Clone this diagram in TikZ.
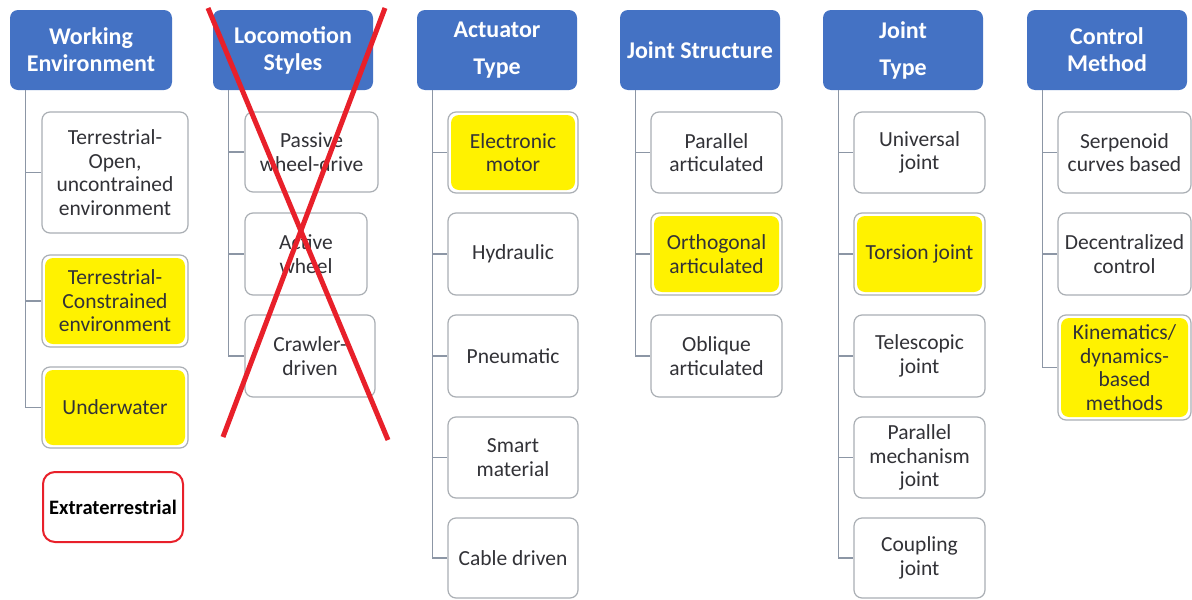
\documentclass[tikz,border=0pt]{standalone}
\usepackage{fontspec}
\setmainfont{Carlito}
\definecolor{hdrblue}{RGB}{68,114,196}
\definecolor{boxgray}{RGB}{170,175,180}
\definecolor{linegray}{RGB}{140,150,165}
\definecolor{txtgray}{RGB}{50,50,55}
\definecolor{hlyellow}{RGB}{255,242,0}
\definecolor{xred}{RGB}{232,32,42}
\begin{document}
\begin{tikzpicture}[x=1pt,y=-1pt,
  hdr/.style={rectangle, rounded corners=8pt, fill=hdrblue, text=white, align=center,
    font=\fontsize{24}{27}\selectfont\bfseries, minimum height=80pt, inner sep=1pt},
  child/.style={rectangle, rounded corners=8pt, draw=boxgray, line width=1.2pt, fill=white,
    text=txtgray, align=center, font=\fontsize{21.5}{23.5}\selectfont, inner sep=1pt},
  yel/.style={child, path picture={\fill[hlyellow] ([shift={(3pt,-3pt)}]path picture bounding box.north west) rectangle ([shift={(-3pt,3pt)}]path picture bounding box.south east);}},
  conn/.style={draw=linegray, line width=1.2pt},
  cross/.style={draw=xred, line width=5pt}]
\useasboundingbox[fill=white] (0,0) rectangle (1192,600);

% headers
\node[hdr, minimum width=162pt] (h1) at (91,50) {Working\\Environment};
\node[hdr, minimum width=160pt] (h2) at (293,50) {Locomotion\\Styles};
\node[hdr, minimum width=160pt] (h3) at (497,50) {Actuator\\[10pt]Type};
\node[hdr, minimum width=160pt] (h4) at (700,50) {Joint Structure};
\node[hdr, minimum width=160pt] (h5) at (903,50) {Joint\\[10pt]Type};
\node[hdr, minimum width=160pt] (h6) at (1107,50) {Control\\Method};

% column 1
\node[child, minimum width=146pt, minimum height=121pt] (w1) at (115,172.5) {Terrestrial-\\Open,\\uncontrained\\environment};
\node[yel, minimum width=146pt, minimum height=92pt] (w2) at (115,301) {Terrestrial-\\Constrained\\environment};
\node[yel, minimum width=146pt, minimum height=81pt] (w3) at (115,407.5) {Underwater};
\node[rectangle, rounded corners=12pt, draw=xred, line width=2pt, minimum width=140pt, minimum height=70pt,
  inner sep=1pt, font=\fontsize{20.5}{22}\selectfont\bfseries, text=black] (ext) at (113,507) {Extraterrestrial};

% column 2
\node[child, minimum width=133pt, minimum height=80pt] (l1) at (311.5,152) {Passive\\wheel-drive};
\node[child, minimum width=122pt, minimum height=82pt] (l2) at (306,254) {Active\\wheel};
\node[child, minimum width=130pt, minimum height=82pt] (l3) at (310,356) {Crawler-\\driven};

% column 3
\node[yel, minimum width=130pt, minimum height=81pt] (a1) at (513,152.5) {Electronic\\motor};
\node[child, minimum width=130pt, minimum height=82pt] (a2) at (513,254) {Hydraulic};
\node[child, minimum width=130pt, minimum height=82pt] (a3) at (513,356) {Pneumatic};
\node[child, minimum width=130pt, minimum height=81pt] (a4) at (513,457.5) {Smart\\material};
\node[child, minimum width=130pt, minimum height=80pt] (a5) at (513,558) {Cable driven};

% column 4
\node[child, minimum width=131pt, minimum height=81pt] (j1) at (716.5,152.5) {Parallel\\articulated};
\node[yel, minimum width=131pt, minimum height=82pt] (j2) at (716.5,254) {Orthogonal\\articulated};
\node[child, minimum width=131pt, minimum height=82pt] (j3) at (716.5,356) {Oblique\\articulated};

% column 5
\node[child, minimum width=131pt, minimum height=81pt] (t1) at (919.5,152.5) {Universal\\joint};
\node[yel, minimum width=131pt, minimum height=82pt] (t2) at (919.5,254) {Torsion joint};
\node[child, minimum width=131pt, minimum height=82pt] (t3) at (919.5,356) {Telescopic\\joint};
\node[child, minimum width=131pt, minimum height=81pt] (t4) at (919.5,457.5) {Parallel\\mechanism\\joint};
\node[child, minimum width=131pt, minimum height=80pt] (t5) at (919.5,558) {Coupling\\joint};

% column 6
\node[child, minimum width=133pt, minimum height=81pt] (c1) at (1124.5,152.5) {Serpenoid\\curves based};
\node[child, minimum width=133pt, minimum height=82pt] (c2) at (1124.5,254) {Decentralized\\control};
\node[yel, minimum width=133pt, minimum height=105pt] (c3) at (1124.5,367.5) {Kinematics/\\dynamics-\\based\\methods};

% connectors
\foreach \h/\c in {h1/w1,h1/w2,h1/w3,h2/l1,h2/l2,h2/l3,h3/a1,h3/a2,h3/a3,h3/a4,h3/a5,
                   h4/j1,h4/j2,h4/j3,h5/t1,h5/t2,h5/t3,h5/t4,h5/t5,h6/c1,h6/c2,h6/c3}
  \draw[conn] ([xshift=15.5pt]\h.south west) |- (\c.west);

% red cross over locomotion column
\coordinate (xa) at (208,8);
\coordinate (xb) at (388,440);
\coordinate (xc) at (385,8);
\coordinate (xd) at (223,437);
\draw[cross] (xa) -- (xb);
\draw[cross] (xc) -- (xd);
\end{tikzpicture}
\end{document}
